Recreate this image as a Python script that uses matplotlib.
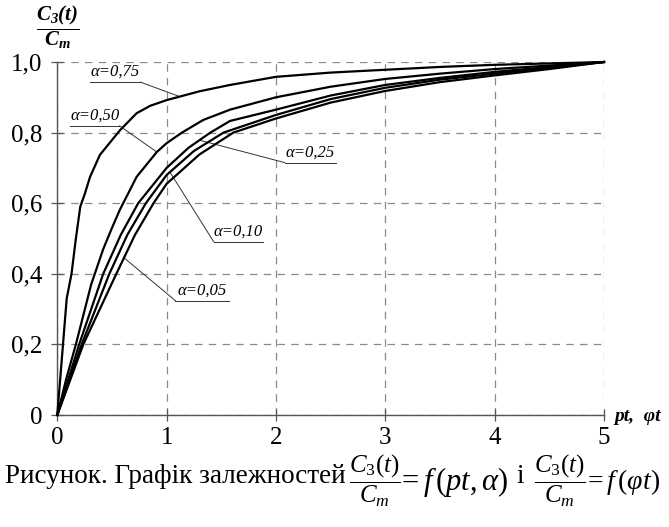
import numpy as np
import matplotlib
matplotlib.use("Agg")
import matplotlib.pyplot as plt

plt.rcParams["font.family"] = ["Liberation Serif", "DejaVu Serif"]
plt.rcParams["mathtext.fontset"] = "custom"
plt.rcParams["mathtext.rm"] = "Liberation Serif"
plt.rcParams["mathtext.it"] = "Liberation Serif:italic"
plt.rcParams["mathtext.bf"] = "Liberation Serif:italic:bold"

# curves C3(t)/Cm, one per alpha
x_075 = [0, 0.086, 0.13, 0.17, 0.21, 0.25, 0.30, 0.39, 0.574, 0.726, 0.85, 1.0, 1.3, 1.58, 2.0, 2.5, 3.0, 3.5, 4.0, 4.5, 5.0]
y_075 = [0, 0.33, 0.40, 0.50, 0.59, 0.625, 0.675, 0.737, 0.807, 0.855, 0.876, 0.892, 0.917, 0.935, 0.958, 0.970, 0.978, 0.986, 0.992, 0.996, 1.0]

x_050 = [0, 0.08, 0.17, 0.31, 0.42, 0.50, 0.57, 0.726, 0.91, 1.0, 1.14, 1.336, 1.58, 2.0, 2.5, 3.0, 3.5, 4.0, 4.5, 5.0]
y_050 = [0, 0.10, 0.20, 0.37, 0.47, 0.53, 0.58, 0.675, 0.745, 0.77, 0.80, 0.836, 0.865, 0.90, 0.93, 0.952, 0.967, 0.980, 0.990, 1.0]

x_025 = [0, 0.20, 0.42, 0.58, 0.74, 1.0, 1.2, 1.4, 1.58, 2.0, 2.5, 3.0, 3.5, 4.0, 4.5, 5.0]
y_025 = [0, 0.20, 0.40, 0.51, 0.60, 0.70, 0.757, 0.80, 0.833, 0.865, 0.905, 0.935, 0.955, 0.972, 0.986, 1.0]

x_010 = [0, 0.223, 0.476, 0.64, 0.81, 1.0, 1.25, 1.52, 2.0, 2.5, 3.0, 3.5, 4.0, 4.5, 5.0]
y_010 = [0, 0.20, 0.40, 0.51, 0.60, 0.68, 0.748, 0.80, 0.85, 0.895, 0.927, 0.950, 0.967, 0.983, 1.0]

x_005 = [0, 0.238, 0.54, 0.71, 0.88, 1.0, 1.3, 1.61, 2.0, 2.5, 3.0, 3.5, 4.0, 4.5, 5.0]
y_005 = [0, 0.20, 0.40, 0.51, 0.60, 0.655, 0.738, 0.80, 0.84, 0.885, 0.918, 0.943, 0.962, 0.980, 1.0]

curves = [(x_075, y_075), (x_050, y_050), (x_025, y_025), (x_010, y_010), (x_005, y_005)]
labels = ["α=0,75", "α=0,50", "α=0,25", "α=0,10", "α=0,05"]

x_ticks = [0, 1, 2, 3, 4, 5]
y_ticks = [0, 0.2, 0.4, 0.6, 0.8, 1.0]
y_tick_labels = ["0", "0,2", "0,4", "0,6", "0,8", "1,0"]

# label underline (x0, x1, y), which end the leader starts from, curve x it points to
label_place = [
    (0.30, 0.76, 0.943, "right", 1.12),
    (0.12, 0.57, 0.819, "right", 0.91),
    (2.08, 2.55, 0.715, "left", 1.30),
    (1.43, 1.88, 0.491, "left", 1.03),
    (1.08, 1.57, 0.324, "left", 0.61),
]

W, H = 669, 527
fig = plt.figure(figsize=(W / 100, H / 100), dpi=100)


def fx(p):
    return p / W


def fy(p):
    return 1 - p / H


ax = fig.add_axes([fx(57.3), fy(415), (604 - 57.3) / W, (415 - 62) / H])

for xs, ys in curves:
    ax.plot(xs, ys, color="black", lw=1.6, solid_joinstyle="round", clip_on=False, zorder=3)

for (xs, ys), text, (x0, x1, yu, side, tx) in zip(curves, labels, label_place):
    ax.plot([x0, x1], [yu, yu], color="#333333", lw=0.7, zorder=2)
    ax.text((x0 + x1) / 2, yu + 0.006, text, ha="center", va="bottom",
            style="italic", fontsize=12)
    ax_x = x1 if side == "right" else x0
    ty = np.interp(tx, xs, ys)
    ax.plot([ax_x, tx], [yu, ty], color="#333333", lw=0.7, zorder=2)

ax.set_xlim(0, 5)
ax.set_ylim(0, 1)
ax.set_xticks(x_ticks)
ax.set_yticks(y_ticks)
ax.set_yticklabels(y_tick_labels)
ax.grid(True, color="#8a8a8a", lw=0.9, linestyle=(0, (6, 5)))
for s in ["top", "right"]:
    ax.spines[s].set_visible(False)
for s in ["left", "bottom"]:
    ax.spines[s].set_color("#555555")
    ax.spines[s].set_linewidth(1.0)
ax.tick_params(direction="inout", length=8, width=0.9, color="#555555", labelsize=18)
ax.tick_params(axis="x", pad=5)
ax.tick_params(axis="y", pad=7)

# axis titles
fig.text(fx(58), fy(27), r"$\dfrac{\mathbf{C_3(t)}}{\mathbf{C_m}}$", ha="center", va="center", fontsize=15)
fig.text(fx(614), fy(421), "pt,  φt", ha="left", va="baseline", fontsize=14,
         style="italic", weight="bold")

# caption
fig.text(fx(5), fy(483), "Рисунок. Графік залежностей", ha="left", va="baseline", fontsize=19.5)
fig.text(fx(375), fy(481), r"$\dfrac{C_3(t)}{C_m}$", ha="center", va="center", fontsize=18)
fig.text(fx(397), fy(482), r"$=f\,(pt,\alpha)$", ha="left", va="center", fontsize=22)
fig.text(fx(516), fy(483), "і", ha="left", va="baseline", fontsize=19.5)
fig.text(fx(560), fy(481), r"$\dfrac{C_3(t)}{C_m}$", ha="center", va="center", fontsize=18)
fig.text(fx(583), fy(482), r"$=f\,(\varphi t)$", ha="left", va="center", fontsize=20)

fig.savefig("out.png", dpi=100)
